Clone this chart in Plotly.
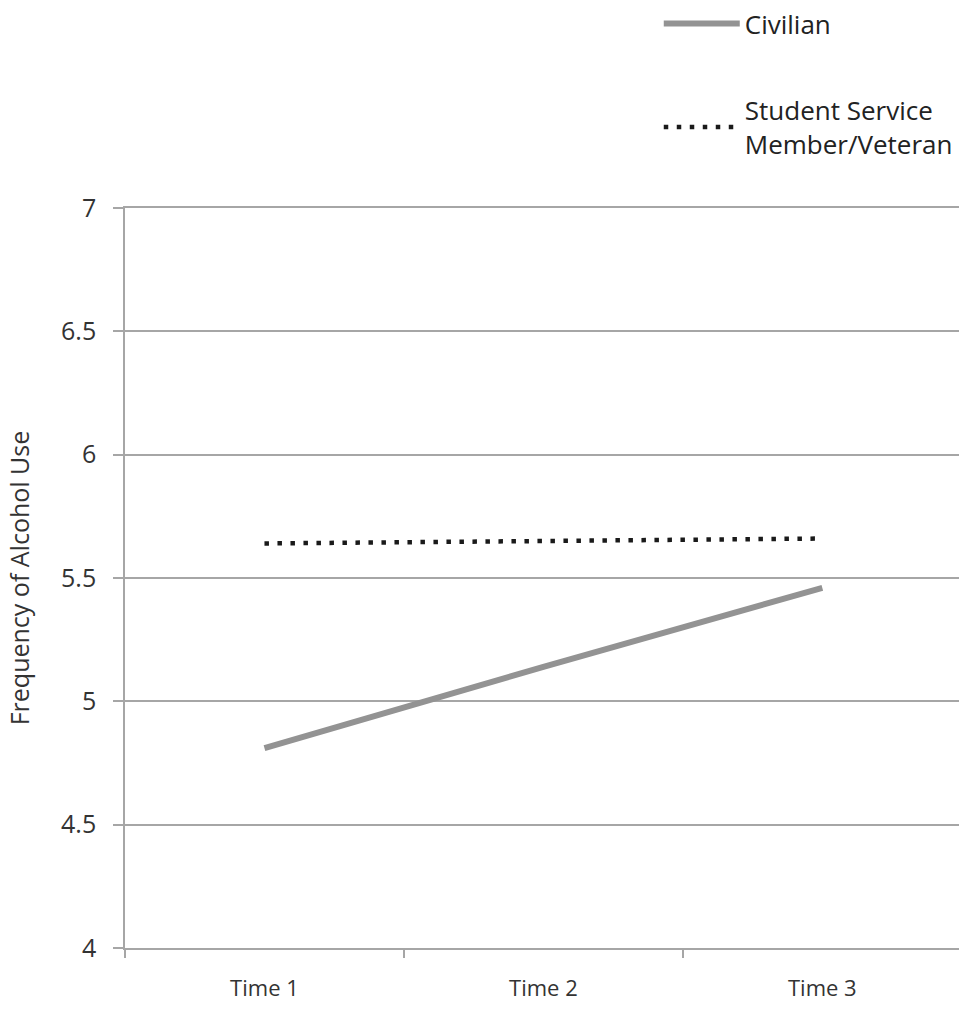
import plotly.graph_objects as go

categories = ["Time 1", "Time 2", "Time 3"]
civilian = [4.81, 5.14, 5.46]
veteran = [5.64, 5.65, 5.66]
y_ticks = [4, 4.5, 5, 5.5, 6, 6.5, 7]
y_tick_labels = ["4", "4.5", "5", "5.5", "6", "6.5", "7"]

GRID = "#a6a6a6"
TXT = "#333333"
FONT = "Open Sans, Lato, sans-serif"

fig = go.Figure()
fig.add_trace(go.Scatter(
    x=categories, y=civilian, mode="lines", name="Civilian",
    line=dict(color="#939393", width=6), legendgroup="a"))
fig.add_trace(go.Scatter(
    x=categories, y=veteran, mode="lines", name="Student Service<br>Member/Veteran",
    line=dict(color="#1a1a1a", width=4.5, dash="4.5px,8.5px"), legendgroup="b"))

fig.update_layout(
    width=959, height=1013,
    margin=dict(l=125, r=0, t=208, b=65),
    paper_bgcolor="white", plot_bgcolor="white",
    font=dict(family=FONT, size=20, color=TXT),
    showlegend=True,
    legend=dict(x=0.64, y=1.0, yref="container", xanchor="left", yanchor="top",
                font=dict(size=26, color="#222222"), tracegroupgap=50,
                itemwidth=76, bgcolor="rgba(0,0,0,0)"),
    xaxis=dict(type="category", range=[-0.5, 2.49], showgrid=False,
               showline=True, mirror=True, linecolor=GRID, linewidth=1.6,
               ticks="outside", tickson="boundaries",
               ticklen=8, tickcolor=GRID, tickwidth=1.6, zeroline=False,
               ticklabelstandoff=20,
               tickfont=dict(size=22, color=TXT)),
    yaxis=dict(range=[4, 7], tickvals=y_ticks, ticktext=y_tick_labels,
               showgrid=True, gridcolor=GRID, gridwidth=1.6,
               showline=True, linecolor=GRID, linewidth=1.6,
               ticks="outside", ticklen=10, tickcolor=GRID, tickwidth=1.6,
               ticklabelstandoff=12,
               zeroline=False, tickfont=dict(size=25, color=TXT),
               title=dict(text="Frequency of Alcohol Use", font=dict(size=25, color=TXT),
                          standoff=24)),
)

fig.write_html("out.html", config={"displayModeBar": False},
               post_script="document.body.style.margin='0';")
